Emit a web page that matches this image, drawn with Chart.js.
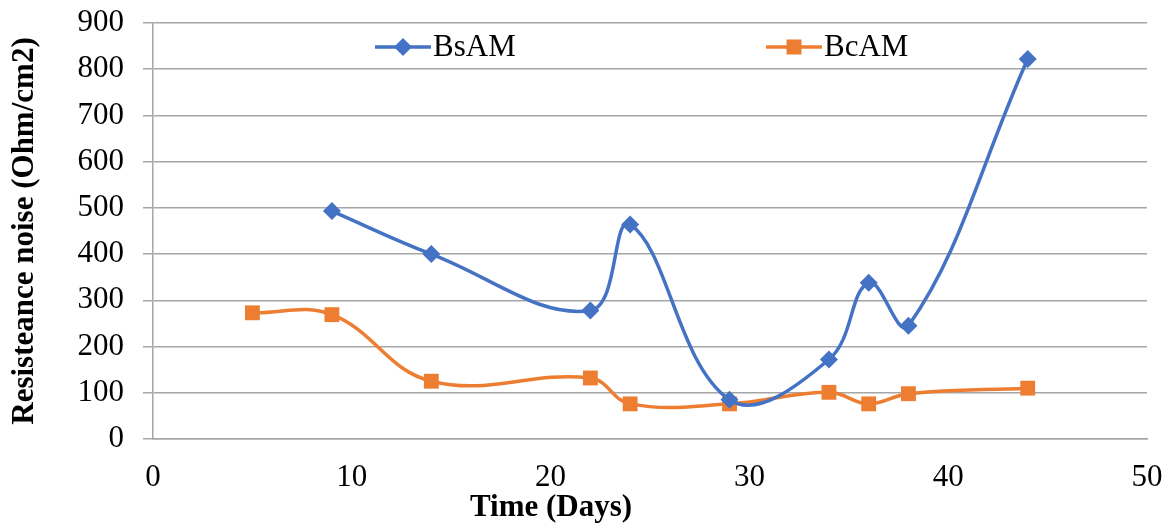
<!DOCTYPE html>
<html>
<head>
<meta charset="utf-8">
<script src="https://cdn.jsdelivr.net/npm/chart.js@4.4.0/dist/chart.umd.min.js"></script>
<style>
  html, body { margin: 0; padding: 0; background: #fff; }
</style>
</head>
<body>
<canvas id="myChart" width="1173" height="525"></canvas>
<script>
// values
const bsamDays = [9, 14, 22, 24, 29, 34, 36, 38, 44];
const bsamValues = [493, 400, 278, 464, 85, 172, 338, 245, 822];
const bcamDays = [5, 9, 14, 22, 24, 29, 34, 36, 38, 44];
const bcamValues = [273, 269, 125, 132, 76, 76, 101, 76, 98, 110];
const seriesNames = ['BsAM', 'BcAM'];
const xTicks = [0, 10, 20, 30, 40, 50];
const yTicks = [0, 100, 200, 300, 400, 500, 600, 700, 800, 900];

const serif = "'Liberation Serif', 'Times New Roman', serif";
const gridGray = '#a6a6a6';

function toPoints(xs, ys) {
  return xs.map((x, i) => ({ x: x, y: ys[i] }));
}

// legend sits inside the plot, two items spread wide apart
const insideLegend = {
  id: 'insideLegend',
  afterDraw(chart) {
    const ctx = chart.ctx;
    const starts = [375, 766];
    const y = 47;
    ctx.save();
    chart.data.datasets.forEach((ds, i) => {
      const x0 = starts[i];
      ctx.strokeStyle = ds.borderColor;
      ctx.lineWidth = 3.5;
      ctx.beginPath();
      ctx.moveTo(x0, y);
      ctx.lineTo(x0 + 56, y);
      ctx.stroke();
      ctx.fillStyle = ds.backgroundColor;
      const cx = x0 + 28;
      if (ds.pointStyle === 'rectRot') {
        ctx.beginPath();
        ctx.moveTo(cx, y - 9);
        ctx.lineTo(cx + 9, y);
        ctx.lineTo(cx, y + 9);
        ctx.lineTo(cx - 9, y);
        ctx.closePath();
        ctx.fill();
      } else {
        ctx.fillRect(cx - 7.5, y - 7.5, 15, 15);
      }
      ctx.fillStyle = '#000';
      ctx.font = '31px ' + serif;
      ctx.textBaseline = 'middle';
      ctx.textAlign = 'left';
      ctx.fillText(ds.label, x0 + 58, y + 1);
    });
    // x axis title, placed left of centre as in the source
    ctx.font = 'bold 31px ' + serif;
    ctx.textAlign = 'center';
    ctx.textBaseline = 'middle';
    ctx.fillText('Time (Days)', 551, 508);
    ctx.restore();
  }
};

const ctx = document.getElementById('myChart').getContext('2d');
new Chart(ctx, {
  type: 'line',
  data: {
    datasets: [{
      label: seriesNames[0],
      data: toPoints(bsamDays, bsamValues),
      borderColor: '#4472c4',
      backgroundColor: '#4472c4',
      borderWidth: 3.5,
      pointStyle: 'rectRot',
      pointRadius: 9,
      pointBorderWidth: 0,
      tension: 0.4
    }, {
      label: seriesNames[1],
      data: toPoints(bcamDays, bcamValues),
      borderColor: '#ed7d31',
      backgroundColor: '#ed7d31',
      borderWidth: 3.5,
      pointStyle: 'rect',
      pointRadius: 10.5,
      pointBorderWidth: 0,
      tension: 0.4
    }]
  },
  options: {
    responsive: false,
    animation: false,
    layout: {
      padding: { top: 23, right: 26, left: 0, bottom: 0 }
    },
    scales: {
      x: {
        type: 'linear',
        min: 0,
        max: 50,
        afterBuildTicks: (scale) => { scale.ticks = xTicks.map(v => ({ value: v })); },
        afterFit: (scale) => {
          scale.height = 86;
          scale.paddingLeft = 0;
          scale.paddingRight = 0;
        },
        grid: { display: false, drawTicks: false },
        border: { display: true, color: gridGray, width: 1.5 },
        ticks: {
          padding: 20,
          color: '#000',
          maxRotation: 0,
          font: { family: serif, size: 31 }
        }
      },
      y: {
        min: 0,
        max: 900,
        afterBuildTicks: (scale) => { scale.ticks = yTicks.map(v => ({ value: v })); },
        afterFit: (scale) => {
          scale.width = 153;
          scale.paddingTop = 0;
          scale.paddingBottom = 0;
        },
        grid: { color: gridGray, lineWidth: 1.5, drawTicks: true, tickLength: 10 },
        border: { display: true, color: gridGray, width: 1.5 },
        ticks: {
          padding: 19,
          color: '#000',
          font: { family: serif, size: 31 }
        },
        title: {
          display: true,
          text: 'Resisteance noise (Ohm/cm2)',
          color: '#000',
          padding: { top: 6, bottom: 0 },
          font: { family: serif, size: 31, weight: 'bold' }
        }
      }
    },
    plugins: {
      legend: { display: false },
      tooltip: { enabled: false }
    }
  },
  plugins: [insideLegend]
});
</script>
</body>
</html>
